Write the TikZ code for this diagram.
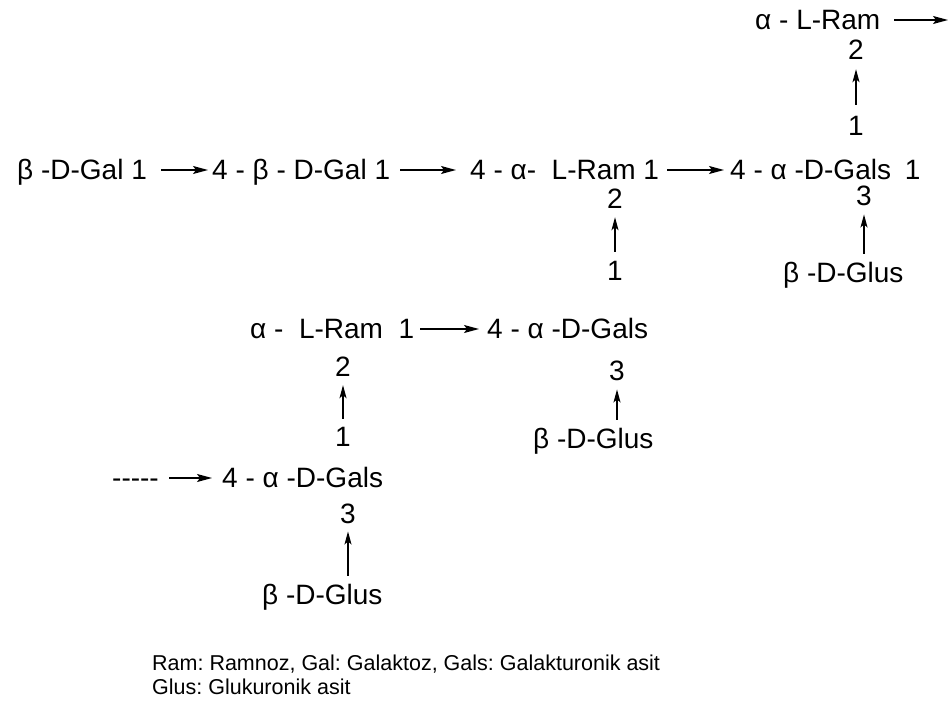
\documentclass[tikz,border=0pt]{standalone}
\usepackage{fontspec}
\setmainfont{Liberation Sans}
\usetikzlibrary{arrows.meta}
\frenchspacing
\begin{document}
\begin{tikzpicture}[x=1pt,y=-1pt,
  lbl/.style={inner sep=0pt, anchor=base west, font=\fontsize{28}{32}\selectfont},
  num/.style={inner sep=0pt, anchor=base, font=\fontsize{28}{32}\selectfont},
  leg/.style={inner sep=0pt, anchor=base west, font=\fontsize{21.5}{24}\selectfont},
  harr/.style={-{Stealth[length=15pt,width=8pt,inset=3pt]}, line width=1.2pt},
  varr/.style={-{Stealth[length=13pt,width=7pt,inset=3pt]}, line width=1.2pt}]
\useasboundingbox (0,0) rectangle (950,714);

% row 1
\node[lbl] (g1) at (17,180) {β -D-Gal 1};
\node[lbl] (g2) at (212,180) {4 - β - D-Gal 1};
\node[lbl] (r1) at (470,180) {4 - α-\ \ L-Ram 1};
\node[lbl] (s1) at (730,180) {4 - α -D-Gals\hspace{6pt} 1};
\draw[harr] ([shift={(14pt,10pt)}]g1.base east) -- ([shift={(-4pt,10pt)}]g2.base west);
\draw[harr] ([shift={(10pt,10pt)}]g2.base east) -- ([shift={(-14pt,10pt)}]r1.base west);
\draw[harr] ([shift={(8pt,10pt)}]r1.base east) -- ([shift={(-6pt,10pt)}]s1.base west);

% top branch
\node[lbl] (top) at (755,30) {α -\ L-Ram};
\coordinate (topout) at (948,20);
\draw[harr] ([shift={(14pt,10pt)}]top.base east) -- (topout);
\node[num] (t2) at (856,60) {2};
\node[num] (t1) at (856,136) {1};
\draw[varr, shorten >=9pt, shorten <=12pt] (t1) -- (t2);

% column under row-1 L-Ram
\node[num] (a2) at (615,208) {2};
\node[num] (a1) at (615,280) {1};
\draw[varr, shorten >=9pt, shorten <=9pt] (a1) -- (a2);

% column under row-1 Gals
\node[num] (b3) at (864,206) {3};
\node[lbl] (glus1) at (783,282) {β -D-Glus};
\draw[varr, shorten >=8pt, shorten <=8pt] (glus1.north -| b3.south) -- (b3.south);

% row 2
\node[lbl] (r2) at (250,338) {α -\ \ L-Ram\ \ 1};
\node[lbl] (s2) at (487,338) {4 - α -D-Gals};
\draw[harr] ([shift={(6pt,9pt)}]r2.base east) -- ([shift={(-8pt,9pt)}]s2.base west);

% column under row-2 L-Ram
\node[num] (c2) at (343,376) {2};
\node[num] (c1) at (343,446) {1};
\draw[varr, shorten >=9pt, shorten <=8pt] (c1) -- (c2);

% column under row-2 Gals
\node[num] (d3) at (617,380) {3};
\node[lbl] (glus2) at (533,448) {β -D-Glus};
\draw[varr, shorten >=9pt, shorten <=8pt] (glus2.north -| d3.south) -- (d3.south);

% row 3
\node[lbl] (dash) at (112,487) {-{}-{}-{}-{}-};
\node[lbl] (s3) at (222,487) {4 - α -D-Gals};
\draw[harr] ([shift={(10pt,9pt)}]dash.base east) -- ([shift={(-10pt,9pt)}]s3.base west);

% column under row-3 Gals
\node[num] (e3) at (348,523) {3};
\node[lbl] (glus3) at (262,604) {β -D-Glus};
\draw[varr, shorten >=8pt, shorten <=8pt] (glus3.north -| e3.south) -- (e3.south);

% legend
\node[leg] (leg1) at (152,670) {Ram: Ramnoz, Gal: Galaktoz, Gals: Galakturonik asit};
\node[leg] (leg2) at (152,694) {Glus: Glukuronik asit};
\end{tikzpicture}
\end{document}
